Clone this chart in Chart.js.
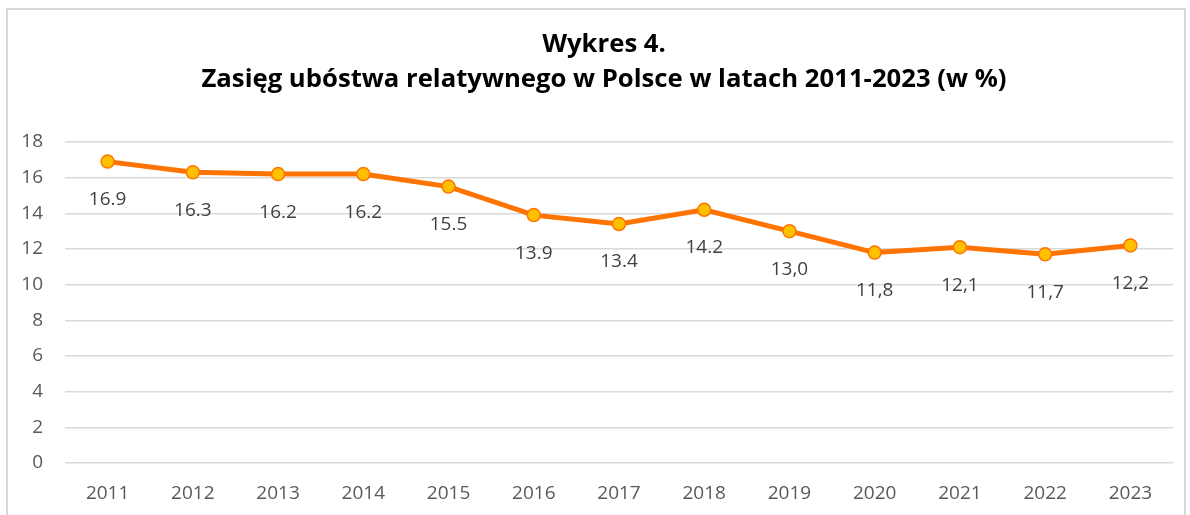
<!DOCTYPE html>
<html>
<head>
<meta charset="utf-8">
<script src="https://cdn.jsdelivr.net/npm/chart.js@4"></script>
<style>
  html, body { margin: 0; padding: 0; background: #fff; }
  body { width: 1190px; height: 515px; position: relative; overflow: hidden; }
  #frame { position: absolute; left: 6px; top: 8px; width: 1180px; height: 520px;
           border: 2px solid #d9d9d9; box-sizing: border-box; }
  #wrap { position: absolute; left: 0; top: 0; width: 1190px; height: 515px; }
</style>
</head>
<body>
<div id="frame"></div>
<div id="wrap"><canvas id="c" width="1190" height="515"></canvas></div>
<script>
const categories = ['2011','2012','2013','2014','2015','2016','2017','2018','2019','2020','2021','2022','2023'];
const values = [16.9, 16.3, 16.2, 16.2, 15.5, 13.9, 13.4, 14.2, 13.0, 11.8, 12.1, 11.7, 12.2];
const valueLabels = ['16.9','16.3','16.2','16.2','15.5','13.9','13.4','14.2','13,0','11,8','12,1','11,7','12,2'];
const titleLines = ['Wykres 4.', 'Zasięg ubóstwa relatywnego w Polsce w latach 2011-2023 (w %)'];
const yMin = 0, yMax = 18, yStep = 2;

const FONT = "'Open Sans', 'Noto Sans', sans-serif";

const titlePlugin = {
  id: 'customTitle',
  afterDraw(chart) {
    const ctx = chart.ctx;
    ctx.save();
    ctx.font = 'bold 25.7px ' + FONT;
    ctx.fillStyle = '#000';
    ctx.textAlign = 'center';
    ctx.textBaseline = 'middle';
    titleLines.forEach((t, i) => ctx.fillText(t, 604, 45 + i * 35));
    ctx.restore();
  }
};

const labelPlugin = {
  id: 'valueLabels',
  afterDatasetsDraw(chart) {
    const ctx = chart.ctx;
    const meta = chart.getDatasetMeta(0);
    ctx.save();
    ctx.font = '19px ' + FONT;
    ctx.fillStyle = '#404040';
    ctx.textAlign = 'center';
    ctx.textBaseline = 'middle';
    meta.data.forEach((pt, i) => {
      ctx.fillText(valueLabels[i], pt.x, pt.y + 38);
    });
    ctx.restore();
  }
};

new Chart(document.getElementById('c'), {
  type: 'line',
  data: {
    labels: categories,
    datasets: [{
      data: values,
      borderColor: '#FF7300',
      borderWidth: 5,
      backgroundColor: '#FFC000',
      pointBackgroundColor: '#FFC000',
      pointBorderColor: '#FF7300',
      pointBorderWidth: 1.5,
      pointRadius: 6.5,
      tension: 0,
      fill: false
    }]
  },
  options: {
    responsive: false,
    animation: false,
    devicePixelRatio: 1,
    layout: { padding: { left: 0, right: 17, top: 142, bottom: 0 } },
    plugins: {
      legend: { display: false },
      tooltip: { enabled: false },
      title: { display: false }
    },
    scales: {
      x: {
        offset: true,
        grid: { display: false, drawTicks: false },
        border: { display: false },
        ticks: { color: '#595959', font: { family: FONT, size: 19 }, padding: 19 },
        afterFit(s) { s.height = 52; }
      },
      y: {
        min: yMin, max: yMax,
        grid: { color: '#d9d9d9', lineWidth: 1.5, drawTicks: false },
        border: { display: false },
        ticks: { stepSize: yStep, color: '#595959', font: { family: FONT, size: 19 }, padding: 22 },
        afterFit(s) { s.width = 65; }
      }
    }
  },
  plugins: [labelPlugin, titlePlugin]
});
</script>
</body>
</html>
